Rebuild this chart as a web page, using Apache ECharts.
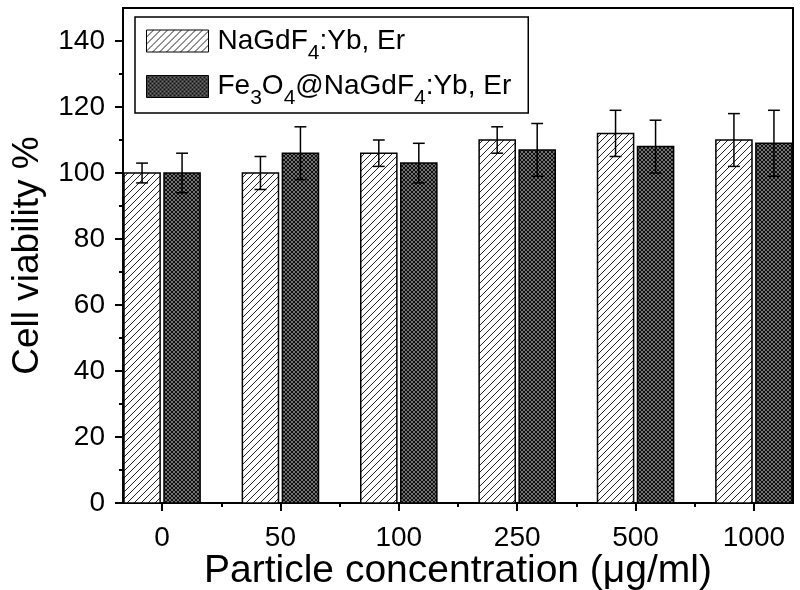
<!DOCTYPE html>
<html>
<head>
<meta charset="utf-8">
<script src="https://cdn.jsdelivr.net/npm/echarts@6/dist/echarts.min.js"></script>
<style>html,body{margin:0;padding:0;background:#fff}#c{width:800px;height:590px}</style>
</head>
<body>
<div id="c"></div>
<script>
// ---- data ----
const categories = ['0', '50', '100', '250', '500', '1000'];
const seriesNames = ['NaGdF4:Yb, Er', 'Fe3O4@NaGdF4:Yb, Er'];
const valuesA = [100, 100, 106, 110, 112, 110];
const errorsA = [3, 5, 4, 4, 7, 8];
const valuesB = [100, 106, 103, 107, 108, 109];
const errorsB = [6, 8, 6, 8, 8, 10];
const yTicks = [0, 20, 40, 60, 80, 100, 120, 140];
const yMinorTicks = [10, 30, 50, 70, 90, 110, 130];

// ---- patterns ----
function hatchPattern() {
  const c = document.createElement('canvas');
  c.width = 7; c.height = 7;
  const g = c.getContext('2d');
  g.fillStyle = '#fff'; g.fillRect(0, 0, 7, 7);
  g.strokeStyle = '#222'; g.lineWidth = 1;
  g.beginPath();
  g.moveTo(-1, 8); g.lineTo(8, -1);
  g.moveTo(-8, 8); g.lineTo(1, -1);
  g.moveTo(6, 8); g.lineTo(15, -1);
  g.stroke();
  return {image: c, repeat: 'repeat'};
}
function crossPattern() {
  const c = document.createElement('canvas');
  c.width = 4; c.height = 4;
  const g = c.getContext('2d');
  g.fillStyle = '#707070'; g.fillRect(0, 0, 4, 4);
  g.strokeStyle = '#111'; g.lineWidth = 1;
  g.beginPath();
  g.moveTo(0, 0); g.lineTo(4, 4);
  g.moveTo(4, 0); g.lineTo(0, 4);
  g.moveTo(-2, 2); g.lineTo(2, -2);
  g.moveTo(2, 6); g.lineTo(6, 2);
  g.stroke();
  return {image: c, repeat: 'repeat'};
}
const fillA = hatchPattern();
const fillB = crossPattern();

const FONT = '"Liberation Sans", Arial, Helvetica, sans-serif';
const X_MIN = -0.33, X_MAX = 5.33;
const BAR_W = 0.305, BAR_OFF = 0.169, CAP_W = 0.1;

function makeRender(offset, fill) {
  return function (params, api) {
    const x = api.value(0), v = api.value(1), e = api.value(2);
    const unit = api.size([1, 0])[0];
    const base = api.coord([x, 0]);
    const cx = base[0] + offset * unit;
    const w = BAR_W * unit;
    const top = api.coord([x, v])[1];
    const eT = api.coord([x, v + e])[1];
    const eB = api.coord([x, v - e])[1];
    const cw = CAP_W * unit / 2;
    const ls = {stroke: '#000', lineWidth: 1.5};
    return {
      type: 'group',
      children: [
        {type: 'rect', shape: {x: cx - w / 2, y: top, width: w, height: base[1] - top},
         style: {fill: fill, stroke: '#000', lineWidth: 1.5}},
        {type: 'line', shape: {x1: cx, y1: eT, x2: cx, y2: eB}, style: ls},
        {type: 'line', shape: {x1: cx - cw, y1: eT, x2: cx + cw, y2: eT}, style: ls},
        {type: 'line', shape: {x1: cx - cw, y1: eB, x2: cx + cw, y2: eB}, style: ls}
      ]
    };
  };
}

const dataA = categories.map((c, i) => [i, valuesA[i], errorsA[i]]);
const dataB = categories.map((c, i) => [i, valuesB[i], errorsB[i]]);

const chart = echarts.init(document.getElementById('c'), null, {renderer: 'canvas'});
chart.setOption({
  animation: false,
  backgroundColor: '#fff',
  grid: {left: 123, right: 7, top: 8, bottom: 87, outerBoundsMode: 'none', containLabel: false,
         show: true, borderColor: '#000', borderWidth: 2, backgroundColor: 'transparent'},
  legend: {
    orient: 'vertical', left: 135, top: 17,
    padding: [10, 17, 4, 11], itemGap: 9,
    itemWidth: 62, itemHeight: 22,
    borderColor: '#000', borderWidth: 1.5,
    selectedMode: false,
    data: [
      {name: seriesNames[0], icon: 'rect', itemStyle: {color: fillA, borderColor: '#000', borderWidth: 1}},
      {name: seriesNames[1], icon: 'rect', itemStyle: {color: fillB, borderColor: '#000', borderWidth: 1}}
    ],
    formatter: function (name) {
      if (name === seriesNames[0]) return '{g|}{n|NaGdF}{s|4}{n|:Yb, Er}';
      return '{g|}{n|Fe}{s|3}{n|O}{s|4}{n|@NaGdF}{s|4}{n|:Yb, Er}';
    },
    textStyle: {
      fontFamily: FONT, color: '#000',
      rich: {
        g: {width: 4},
        n: {fontSize: 28, fontFamily: FONT, color: '#000'},
        s: {fontSize: 21, fontFamily: FONT, color: '#000', padding: [24, 0, 0, 0]}
      }
    }
  },
  xAxis: [
    {
      type: 'value', min: X_MIN, max: X_MAX,
      name: 'Particle concentration (μg/ml)', nameLocation: 'middle', nameGap: 49, nameMoveOverlap: false,
      nameTextStyle: {fontFamily: FONT, fontSize: 39, color: '#000'},
      axisLine: {show: true, onZero: false, lineStyle: {color: '#000', width: 2}},
      axisTick: {show: true, inside: false, length: 8, lineStyle: {color: '#000', width: 2}, customValues: [0, 1, 2, 3, 4, 5]},
      axisLabel: {show: true, customValues: [0, 1, 2, 3, 4, 5], formatter: v => categories[Math.round(v)], fontFamily: FONT, fontSize: 28, color: '#000', margin: 21},
      splitLine: {show: false}
    },
    {
      type: 'value', min: X_MIN, max: X_MAX, position: 'bottom',
      axisLine: {show: false, onZero: false},
      axisTick: {show: true, inside: false, length: 4, lineStyle: {color: '#000', width: 2}, customValues: [0.5, 1.5, 2.5, 3.5, 4.5]},
      axisLabel: {show: false, customValues: [0.5, 1.5, 2.5, 3.5, 4.5]},
      splitLine: {show: false}
    }
  ],
  yAxis: [
    {
      type: 'value', min: 0, max: 150,
      name: 'Cell viability %', nameLocation: 'middle', nameGap: 77,
      nameTextStyle: {fontFamily: FONT, fontSize: 37, color: '#000'},
      axisLine: {show: true, onZero: false, lineStyle: {color: '#000', width: 2}},
      axisTick: {show: true, inside: false, length: 8, lineStyle: {color: '#000', width: 2}, customValues: yTicks},
      axisLabel: {show: true, customValues: yTicks, fontFamily: FONT, fontSize: 28, color: '#000', margin: 18},
      splitLine: {show: false}
    },
    {
      type: 'value', min: 0, max: 150, position: 'left',
      axisLine: {show: false, onZero: false},
      axisTick: {show: true, inside: false, length: 4, lineStyle: {color: '#000', width: 2}, customValues: yMinorTicks},
      axisLabel: {show: false, customValues: yMinorTicks},
      splitLine: {show: false}
    }
  ],
  series: [
    {name: seriesNames[0], type: 'custom', xAxisIndex: 0, yAxisIndex: 0, renderItem: makeRender(-BAR_OFF, fillA),
     itemStyle: {color: fillA}, data: dataA, encode: {x: 0, y: 1}},
    {name: seriesNames[1], type: 'custom', xAxisIndex: 0, yAxisIndex: 0, renderItem: makeRender(BAR_OFF, fillB),
     itemStyle: {color: fillB}, data: dataB, encode: {x: 0, y: 1}}
  ]
});
</script>
</body>
</html>
